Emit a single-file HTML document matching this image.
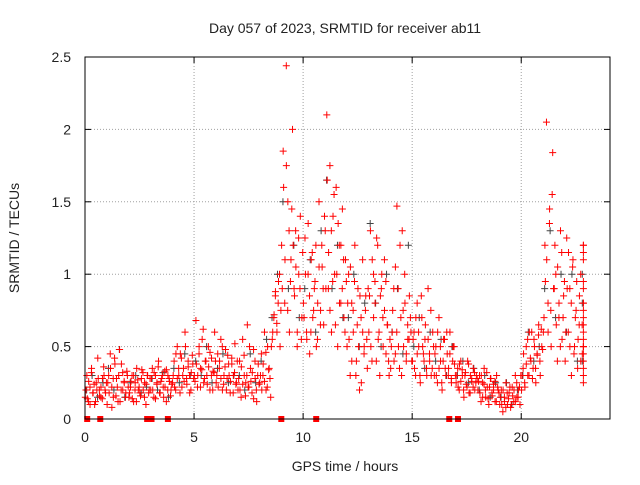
<!DOCTYPE html>
<html><head><meta charset="utf-8"><style>
body{margin:0;background:#fff}
svg text{font-family:"Liberation Sans",sans-serif;font-size:14px;fill:#222}
</style></head><body>
<svg id="c" width="640" height="480"></svg>
<script>
// red values per hour bin (index = hour 0..22), spread across the hour
const redHours=[
[0.15,0.3,0.12,0.22,0.35,0.18,0.1,0.25,0.42,0.2,0.15,0.28,0.3,0.18],
[0.1,0.3,0.45,0.22,0.15,0.38,0.28,0.12,0.48,0.2,0.32,0.25,0.18,0.3],
[0.15,0.22,0.3,0.12,0.25,0.35,0.2,0.18,0.28,0.32,0.15,0.24,0.3,0.2],
[0.2,0.35,0.15,0.3,0.25,0.4,0.18,0.28,0.22,0.33,0.12,0.3,0.26,0.2],
[0.25,0.4,0.2,0.5,0.3,0.45,0.22,0.35,0.6,0.28,0.4,0.18,0.32,0.38],
[0.3,0.68,0.22,0.45,0.35,0.55,0.25,0.4,0.3,0.5,0.2,0.42,0.33,0.6],
[0.25,0.45,0.35,0.55,0.2,0.3,0.48,0.28,0.38,0.18,0.42,0.3,0.52,0.25],
[0.2,0.4,0.15,0.55,0.3,0.25,0.65,0.22,0.35,0.18,0.48,0.28,0.12,0.38],
[0.25,0.45,0.3,0.6,0.2,0.5,0.35,0.15,0.55,0.7,0.85,0.6,0.95,0.5],
[1.2,1.85,0.8,2.44,1.5,0.6,1.1,2.0,0.9,1.3,0.5,1.0,1.4,0.7],
[0.8,1.25,0.6,1.0,0.45,1.1,0.7,0.9,1.2,0.55,1.5,0.75,1.05,0.65],
[1.3,2.1,0.9,1.75,0.6,1.4,1.0,1.6,0.5,1.2,0.8,1.45,0.7,1.1],
[0.5,1.0,0.3,0.8,0.6,1.2,0.4,0.9,0.2,0.7,1.1,0.5,0.85,0.35],
[0.6,1.3,0.4,1.0,0.8,1.25,0.55,0.3,0.9,0.7,1.1,0.45,0.65,0.3],
[0.35,0.6,0.9,0.45,1.47,0.5,1.2,0.3,0.75,1.0,0.4,0.55,0.85,0.6],
[0.4,0.6,0.3,0.8,0.5,0.25,0.7,0.45,0.55,0.35,0.9,0.4,0.3,0.6],
[0.3,0.5,0.25,0.7,0.4,0.2,0.55,0.35,0.6,0.3,0.45,0.25,0.5,0.38],
[0.25,0.35,0.2,0.4,0.3,0.15,0.32,0.22,0.38,0.18,0.28,0.35,0.2,0.3],
[0.2,0.3,0.12,0.25,0.35,0.15,0.22,0.1,0.28,0.18,0.24,0.12,0.3,0.2],
[0.1,0.2,0.05,0.15,0.25,0.1,0.18,0.08,0.22,0.12,0.3,0.15,0.2,0.1],
[0.2,0.35,0.25,0.5,0.3,0.6,0.4,0.28,0.55,0.35,0.45,0.65,0.3,0.5],
[0.6,1.2,2.05,0.8,1.45,0.5,1.84,0.9,1.0,0.4,0.7,1.3,0.55,0.85],
[0.4,1.25,0.6,0.9,0.3,1.1,0.5,0.75,0.35,0.65,1.0,0.45,0.8,0.55],
[1.2,0.9,0.5,1.1,0.35,0.7,0.6,0.25]
];
// second pass of red values per hour bin (offset in time)
const redHours2=[
[0.2,0.14,0.26,0.1,0.32,0.18,0.24,0.12,0.2,0.28,0.16,0.22,0.14,0.36,0.2,0.25],
[0.25,0.18,0.35,0.08,0.28,0.42,0.16,0.22,0.3,0.12,0.38,0.2,0.26,0.15,0.33,0.22],
[0.18,0.26,0.14,0.3,0.2,0.12,0.27,0.22,0.16,0.34,0.2,0.25,0.1,0.3,0.18,0.28],
[0.28,0.2,0.32,0.14,0.24,0.36,0.18,0.26,0.3,0.15,0.22,0.34,0.2,0.28,0.16,0.24],
[0.3,0.22,0.45,0.28,0.35,0.18,0.42,0.3,0.26,0.5,0.24,0.36,0.3,0.2,0.44,0.28],
[0.26,0.38,0.3,0.5,0.22,0.34,0.62,0.28,0.4,0.24,0.36,0.46,0.3,0.2,0.32,0.4],
[0.3,0.22,0.4,0.28,0.5,0.24,0.36,0.2,0.44,0.3,0.26,0.38,0.18,0.32,0.24,0.4],
[0.28,0.2,0.36,0.24,0.44,0.16,0.3,0.22,0.5,0.26,0.32,0.14,0.4,0.2,0.3,0.24],
[0.3,0.2,0.38,0.26,0.46,0.22,0.34,0.28,0.5,0.6,0.72,0.88,0.66,0.8,1.0,0.75],
[0.9,1.6,1.1,1.75,0.75,1.3,0.95,1.45,1.2,0.85,1.05,0.6,1.25,0.9,0.55,1.15],
[0.7,1.0,0.55,1.35,0.85,0.6,1.15,0.75,0.95,0.5,0.8,1.05,0.65,1.2,0.9,1.4],
[0.9,1.65,1.15,0.75,1.3,0.95,1.55,0.65,1.0,1.35,0.8,1.2,0.9,1.1,0.6,0.95],
[0.8,0.55,1.05,0.4,0.75,0.95,0.3,0.65,0.5,0.85,0.25,0.6,0.45,0.75,0.55,0.9],
[0.85,0.5,1.1,0.7,0.95,0.4,1.2,0.6,0.85,1.0,0.5,0.75,0.95,0.65,0.4,0.55],
[0.5,0.75,0.4,1.05,0.6,0.9,0.35,0.7,1.3,0.5,0.8,0.45,0.65,0.55,0.7,0.4],
[0.55,0.35,0.7,0.45,0.6,0.3,0.85,0.5,0.4,0.65,0.3,0.55,0.45,0.75,0.35,0.5],
[0.45,0.3,0.6,0.35,0.5,0.25,0.4,0.55,0.3,0.45,0.35,0.6,0.28,0.4,0.5,0.3],
[0.3,0.22,0.38,0.26,0.34,0.2,0.3,0.24,0.4,0.18,0.3,0.26,0.22,0.32,0.25,0.28],
[0.26,0.18,0.3,0.15,0.24,0.2,0.32,0.14,0.22,0.28,0.16,0.2,0.26,0.12,0.22,0.18],
[0.15,0.1,0.2,0.12,0.08,0.18,0.14,0.22,0.1,0.16,0.2,0.12,0.25,0.15,0.22,0.3],
[0.3,0.45,0.22,0.38,0.55,0.3,0.42,0.6,0.35,0.5,0.25,0.44,0.58,0.4,0.62,0.48],
[0.7,0.95,1.1,0.6,1.35,0.75,1.55,0.9,1.2,0.65,1.05,0.8,0.5,1.15,0.7,0.95],
[0.6,0.9,1.15,0.5,0.8,1.05,0.45,0.7,0.95,0.55,0.85,0.4,0.65,1.2,0.5,0.75],
[0.95,0.45,1.15,0.65,0.4,0.8,0.5,0.3]
];
// gray values per hour bin
const grayHours=[
[0.2,0.3,0.15,0.25],[0.35,0.2,0.48,0.15],[0.25,0.3,0.18,0.22],[0.28,0.2,0.32,0.15],
[0.35,0.25,0.45,0.3],[0.4,0.3,0.5,0.25],[0.35,0.45,0.25,0.3],[0.3,0.2,0.45,0.25],
[0.4,0.55,0.7,1.0],[1.5,0.9,1.2,0.7],[0.9,1.1,0.6,1.3],[1.65,0.9,1.2,0.7],
[0.7,1.0,0.5,0.8],[1.35,0.8,0.5,1.0],[0.6,0.9,0.45,1.2],[0.5,0.7,0.35,0.6],
[0.4,0.55,0.3,0.5],[0.3,0.4,0.25,0.35],[0.2,0.3,0.15,0.25],[0.15,0.25,0.1,0.2],
[0.3,0.6,0.4,0.5],[0.9,1.3,0.7,1.0],[0.6,1.0,0.4,0.8],[1.0,0.4]
];
// zero-level markers (hours)
const redSquares=[0.1,0.7,2.85,3.05,3.8,9.0,10.6,16.7,17.1];
const xTicks=[0,5,10,15,20];
const yTicks=[0,0.5,1,1.5,2,2.5];
const yTickLabels=["0","0.5","1","1.5","2","2.5"];

const L=85,R=610,T=57,B=419;
const X=h=>L+h*(R-L)/24.07;
const Y=v=>B-v*(B-T)/2.5;
const svg=document.getElementById('c');
const NS='http://www.w3.org/2000/svg';
function mk(tag,attrs,parent){const e=document.createElementNS(NS,tag);for(const k in attrs)e.setAttribute(k,attrs[k]);(parent||svg).appendChild(e);return e;}

const grid=mk('g',{});


xTicks.forEach(t=>{
  if(t>0){const l=mk('line',{x1:X(t),x2:X(t),y1:T,y2:B,stroke:'#a0a0a0','stroke-dasharray':'1,2'},grid);
  }
  const tx=mk('text',{x:X(t),y:442,'text-anchor':'middle'});tx.textContent=t;
  
  mk('line',{x1:X(t),x2:X(t),y1:B,y2:B-6,stroke:'#000'});
  mk('line',{x1:X(t),x2:X(t),y1:T,y2:T+6,stroke:'#000'});
});
yTicks.forEach((t,i)=>{
  if(t>0&&t<2.5){const l=mk('line',{x1:L,x2:R,y1:Y(t),y2:Y(t),stroke:'#a0a0a0','stroke-dasharray':'1,2'},grid);
  }
  const tx=mk('text',{x:71,y:Y(t)+5,'text-anchor':'end'});tx.textContent=yTickLabels[i];
  
  mk('line',{x1:L,x2:L+6,y1:Y(t),y2:Y(t),stroke:'#000'});
  mk('line',{x1:R,x2:R-6,y1:Y(t),y2:Y(t),stroke:'#000'});
});

function plus(h,v,col,g){
  const x=X(h),y=Y(v);
  const p=mk('path',{d:`M${x-3.5} ${y}H${x+3.5}M${x} ${y-3.5}V${y+3.5}`,stroke:col,'stroke-width':1,fill:'none'},g);
  
  
}
const gg=mk('g',{});


grayHours.forEach((vals,h)=>{const n=h===23?4:vals.length;vals.forEach((v,i)=>plus(Math.min(h+(i+0.3)/n,22.8),v,'#444',gg));});
const rg=mk('g',{});


redHours.forEach((vals,h)=>{const n=h===23?14:vals.length;vals.forEach((v,i)=>plus(Math.min(h+(i+0.2)/n,22.85),v,'#ff0000',rg));});
redHours2.forEach((vals,h)=>{const n=h===23?16:vals.length;vals.forEach((v,i)=>plus(Math.min(h+(i+0.7)/n,22.85),v,'#ff0000',rg));});
redSquares.forEach(h=>{const s=mk('rect',{x:X(h)-3,y:B-3,width:6,height:6,fill:'#ff0000'});
  });

const fr=mk('rect',{x:L,y:T,width:R-L,height:B-T,fill:'none',stroke:'#000'});

const ti=mk('text',{x:345,y:33,'text-anchor':'middle'});ti.textContent='Day 057 of 2023, SRMTID for receiver ab11';

const xl=mk('text',{x:345,y:471,'text-anchor':'middle'});xl.textContent='GPS time / hours';

const yl=mk('text',{x:0,y:0,'text-anchor':'middle',transform:'translate(19,238) rotate(-90)'});yl.textContent='SRMTID / TECUs';

</script>
</body></html>
